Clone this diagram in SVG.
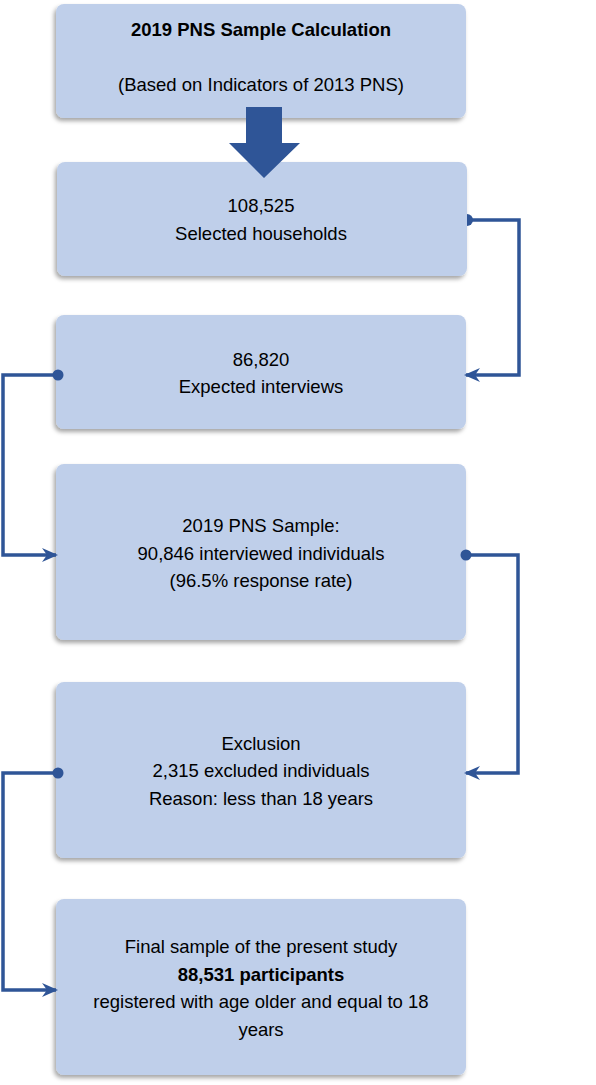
<svg xmlns="http://www.w3.org/2000/svg" width="596" height="1085" viewBox="0 0 596 1085">
<style>
.box{fill:#bfcfea}
.t{font-family:"Liberation Sans",Arial,sans-serif;font-size:18.5px;fill:#000;text-anchor:middle}
.b{font-weight:bold}
.c{fill:none;stroke:#2f5597;stroke-width:3.5}
.dot{fill:#2f5597}
</style>
<defs>
<filter id="sh" x="-10%" y="-10%" width="120%" height="130%">
<feDropShadow dx="-2" dy="3" stdDeviation="2" flood-color="#000" flood-opacity="0.35"/>
</filter>
<marker id="ah" viewBox="0 0 16 14" refX="14" refY="7" markerWidth="16" markerHeight="14" markerUnits="userSpaceOnUse" orient="auto">
<path d="M0,0 L16,7 L0,14 L5,7 Z" fill="#2f5597"/>
</marker>
</defs>
<g id="n1"><rect class="box" filter="url(#sh)" x="56" y="4" width="410" height="114" rx="8"/>
<text class="t b" x="261" y="36">2019 PNS Sample Calculation</text>
<text class="t" x="261" y="91">(Based on Indicators of 2013 PNS)</text></g>
<g id="n2"><rect class="box" filter="url(#sh)" x="57" y="162" width="410" height="114" rx="8"/>
<text class="t" x="261" y="212">108,525</text>
<text class="t" x="261" y="240">Selected households</text></g>
<g id="n3"><rect class="box" filter="url(#sh)" x="56" y="315" width="410" height="114" rx="8"/>
<text class="t" x="261" y="366">86,820</text>
<text class="t" x="261" y="393">Expected interviews</text></g>
<g id="n4"><rect class="box" filter="url(#sh)" x="56" y="464" width="410" height="176" rx="8"/>
<text class="t" x="261" y="532">2019 PNS Sample:</text>
<text class="t" x="261" y="560">90,846 interviewed individuals</text>
<text class="t" x="261" y="587">(96.5% response rate)</text></g>
<g id="n5"><rect class="box" filter="url(#sh)" x="56" y="682" width="410" height="176" rx="8"/>
<text class="t" x="261" y="750">Exclusion</text>
<text class="t" x="261" y="777">2,315 excluded individuals</text>
<text class="t" x="261" y="805">Reason: less than 18 years</text></g>
<g id="n6"><rect class="box" filter="url(#sh)" x="56" y="899" width="410" height="176" rx="8"/>
<text class="t" x="261" y="953">Final sample of the present study</text>
<text class="t b" x="261" y="981">88,531 participants</text>
<text class="t" x="261" y="1008">registered with age older and equal to 18</text>
<text class="t" x="261" y="1036">years</text></g>
<g id="connectors">
<path d="M246,107 H282 V143 H300 L264,178 L229,143 H246 Z" fill="#2f5597"/>
<path class="c" d="M468,220 H519 V375 H466" marker-end="url(#ah)"/>
<path d="M467,214 A6,6 0 0 1 467,226 Z" class="dot"/>
<path class="c" d="M58,375 H3 V555 H56" marker-end="url(#ah)"/>
<circle class="dot" cx="58" cy="375" r="5.5"/>
<path class="c" d="M466,555 H518 V773 H466" marker-end="url(#ah)"/>
<circle class="dot" cx="466" cy="555" r="5.5"/>
<path class="c" d="M58,773 H3 V990 H56" marker-end="url(#ah)"/>
<circle class="dot" cx="58" cy="773" r="5.5"/>
</g>
</svg>
